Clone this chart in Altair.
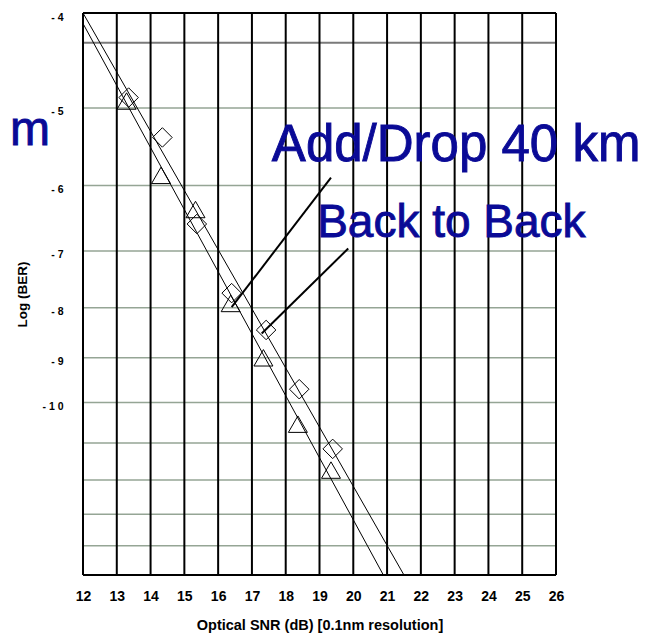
import altair as alt
import pandas as pd

# ---------------- data ----------------
# Triangles  (series pointed to by "Add/Drop 40 km")
tri_snr = [13.29, 14.31, 15.33, 16.37, 17.34, 18.36, 19.34]
tri_logber = [-4.92, -5.86, -6.35, -7.92, -9.00, -10.52, -11.72]
# Diamonds (series pointed to by "Back to Back")
dia_snr = [13.35, 14.35, 15.37, 16.40, 17.42, 18.40, 19.39]
dia_logber = [-4.88, -5.36, -6.57, -7.73, -8.43, -9.69, -11.15]

# straight fit lines (start / end)
fit_snr_start = [12.0, 12.0]
fit_logber_start = [-4.10, -4.00]
fit_snr_end = [20.89, 21.50]
fit_logber_end = [-15.0, -15.0]

# leader lines from the labels to the curves
lead_snr_start = [19.34, 19.85]
lead_logber_start = [-5.89, -6.96]
lead_snr_end = [16.40, 17.29]
lead_logber_end = [-7.99, -8.50]

# annotation texts
label_texts = ["Add/Drop 40 km", "Back to Back"]
label_snr = [17.59, 18.93]
label_logber = [-5.665, -6.774]
label_sizes = [51, 46]
cut_text = ["m"]
cut_snr = [9.84]
cut_logber = [-5.457]

x_ticks = list(range(12, 27))          # 12 ... 26
y_ticks = list(range(4, 16))           # -log10(BER) 4 ... 15
h_grid = list(range(5, 15))
y_border = [4, 15]
ref_logber = [-4.29]

BLUE = "#0a0a96"
FONT = "Liberation Sans"

# ---------------- tables ----------------
tri = pd.DataFrame({"x": tri_snr, "n": [-v for v in tri_logber]})
dia = pd.DataFrame({"x": dia_snr, "n": [-v for v in dia_logber]})
fit = pd.DataFrame({"x": fit_snr_start, "n": [-v for v in fit_logber_start],
                    "xe": fit_snr_end, "ne": [-v for v in fit_logber_end]})
lead = pd.DataFrame({"x": lead_snr_start, "n": [-v for v in lead_logber_start],
                     "xe": lead_snr_end, "ne": [-v for v in lead_logber_end]})
lab = pd.DataFrame({"x": label_snr, "n": [-v for v in label_logber],
                    "t": label_texts, "fs": label_sizes})
cut = pd.DataFrame({"x": cut_snr, "n": [-v for v in cut_logber], "t": cut_text})
hg = pd.DataFrame({"n": h_grid})
vg = pd.DataFrame({"x": x_ticks})
bd = pd.DataFrame({"n": y_border})
ref = pd.DataFrame({"n": [-v for v in ref_logber]})

xscale = alt.Scale(domain=[12, 26], nice=False, zero=False)
yscale = alt.Scale(type="log", domain=[4, 15], reverse=True, nice=False)

xaxis = alt.Axis(values=x_ticks, title="Optical SNR (dB) [0.1nm resolution]",
                 grid=False, domain=False, ticks=False, tickSize=0,
                 labelFont=FONT, labelFontSize=14, labelFontWeight="bold",
                 labelColor="black", labelPadding=14, labelFlush=False,
                 labelOverlap=False,
                 titleFont=FONT, titleFontSize=14.5, titleFontWeight="bold",
                 titleColor="black", titleX=236.5, titleY=50,
                 titleBaseline="middle")
yaxis = alt.Axis(values=y_ticks,
                 labelExpr="datum.value == 10 ? '- 1 0' : (datum.value < 10 ? '-  ' + datum.value : '')",
                 title="Log (BER)", grid=False, domain=False, ticks=False,
                 tickSize=0, labelFont=FONT, labelFontSize=10.5,
                 labelFontWeight="bold", labelColor="black", labelPadding=20,
                 labelOffset=4, labelFlush=False, labelOverlap=False,
                 titleFont=FONT, titleFontSize=13.5, titleFontWeight="bold",
                 titleColor="black", titleX=-60.5, titleY=281,
                 titleBaseline="middle")


def X(f="x"):
    return alt.X(f"{f}:Q", scale=xscale, axis=xaxis)


def Y(f="n"):
    return alt.Y(f"{f}:Q", scale=yscale, axis=yaxis)


hgrid = alt.Chart(hg).mark_rule(color="#95a595", strokeWidth=1.5).encode(y=Y())
refline = alt.Chart(ref).mark_rule(color="#7a7a7a", strokeWidth=2).encode(y=Y())
vgrid = alt.Chart(vg).mark_rule(color="black", strokeWidth=2).encode(x=X())
border = alt.Chart(bd).mark_rule(color="black", strokeWidth=2).encode(y=Y())

fits = alt.Chart(fit).mark_rule(color="black", strokeWidth=1).encode(
    x=X(), y=Y(), x2="xe:Q", y2="ne:Q")
leads = alt.Chart(lead).mark_rule(color="black", strokeWidth=2).encode(
    x=X(), y=Y(), x2="xe:Q", y2="ne:Q")

tri_pts = alt.Chart(tri).mark_point(shape="triangle-up", size=361, filled=False,
                                    stroke="black", strokeWidth=1, opacity=1).encode(x=X(), y=Y())
dia_pts = alt.Chart(dia).mark_point(shape="diamond", size=380, filled=False,
                                    stroke="black", strokeWidth=1, opacity=1).encode(x=X(), y=Y())

labels = alt.Chart(lab).mark_text(align="left", baseline="alphabetic", font=FONT,
                                  color=BLUE, stroke=BLUE, strokeWidth=0.9).encode(
    x=X(), y=Y(), text="t:N", size=alt.Size("fs:Q", scale=None, legend=None))
cut_lab = alt.Chart(cut).mark_text(align="left", baseline="alphabetic", font=FONT,
                                   fontSize=48, color=BLUE, stroke=BLUE,
                                   strokeWidth=0.9).encode(x=X(), y=Y(), text="t:N")

chart = alt.layer(hgrid, refline, vgrid, border, fits, tri_pts, dia_pts, leads,
                  labels, cut_lab).properties(
    width=473, height=562,
    padding={"left": 75, "top": 5, "right": 83, "bottom": 60},
    autosize=alt.AutoSizeParams(type="none"),
    background="white",
).configure_view(stroke=None)

chart.save("out.html", embed_options={"renderer": "svg", "actions": False})
